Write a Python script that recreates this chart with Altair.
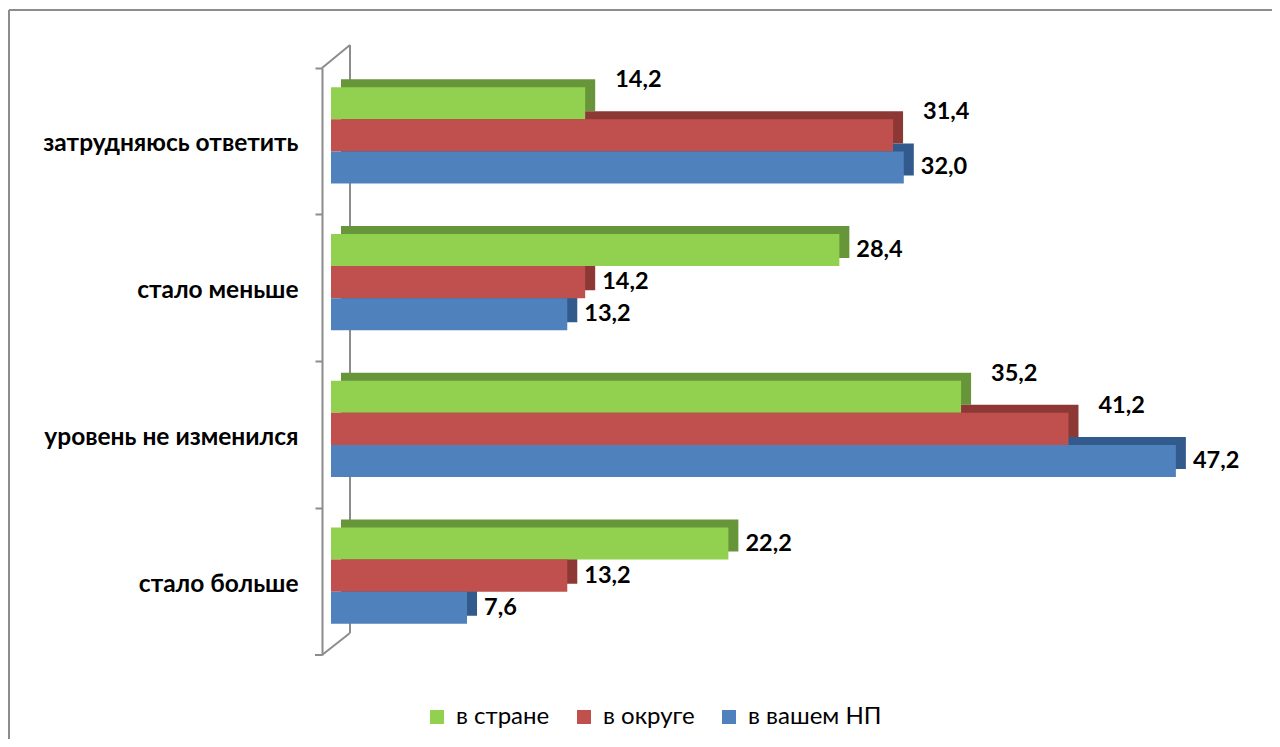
import altair as alt
import pandas as pd

categories = ["затрудняюсь ответить", "стало меньше", "уровень не изменился", "стало больше"]
series = ["в стране", "в округе", "в вашем НП"]
v_country = [14.2, 28.4, 35.2, 22.2]
v_district = [31.4, 14.2, 41.2, 13.2]
v_local = [32.0, 13.2, 47.2, 7.6]
front_colors = ["#92D050", "#C0504D", "#4F81BD"]
side_colors = ["#67963A", "#8E3836", "#325A8C"]

vals = [v_country, v_district, v_local]
rows = []
for ci, cat in enumerate(categories):
    for si, s in enumerate(series):
        v = vals[si][ci]
        nxt = vals[si + 1][ci] if si + 1 < len(series) else None
        rows.append({
            "cat": cat,
            "series": s,
            "value": v,
            "label": f"{v:.1f}".replace(".", ","),
            "shifted": bool(nxt is not None and v < nxt),
        })
df = pd.DataFrame(rows)

FONT = "Lato"
GRAY = "#8C8C8C"
H = 587


def y_enc(shift, axis=None):
    return alt.Y("cat:N", sort=categories, title=None,
                 scale=alt.Scale(paddingInner=0, paddingOuter=0, range=[shift, H + shift]),
                 axis=axis)


yoff_enc = alt.YOffset("series:N", sort=series,
                       scale=alt.Scale(paddingInner=0, paddingOuter=0.79))
x_enc = alt.X("value:Q", scale=alt.Scale(domain=[0, 50]), axis=None)

base = alt.Chart(df)

axis_layer = base.mark_bar(opacity=0).encode(
    y=y_enc(0, alt.Axis(labelFont=FONT, labelFontSize=24.5, labelFontWeight="bold",
                        labelColor="black", labelPadding=17, labelOffset=3,
                        domain=True, domainColor=GRAY, domainWidth=2, offset=9,
                        ticks=True, tickColor=GRAY, tickWidth=2, tickSize=7,
                        bandPosition=0, labelLimit=400)),
    x=alt.value(0), x2=alt.value(0),
)

shadow = base.mark_bar(xOffset=10).encode(
    y=y_enc(-14), yOffset=yoff_enc, x=x_enc,
    color=alt.Color("series:N", sort=series,
                    scale=alt.Scale(domain=series, range=side_colors), legend=None),
)

front = base.mark_bar().encode(
    y=y_enc(-6), yOffset=yoff_enc, x=x_enc,
    color=alt.Color("series:N", sort=series,
                    scale=alt.Scale(domain=series, range=front_colors),
                    legend=alt.Legend(title=None, orient="none", legendX=94, legendY=637,
                                      direction="horizontal", symbolType="square",
                                      symbolSize=196, symbolStrokeWidth=0,
                                      labelFont=FONT, labelFontSize=24, labelColor="black",
                                      labelOffset=7, columnPadding=22)),
)

labels_plain = base.transform_filter("!datum.shifted").mark_text(
    align="left", baseline="middle", dx=17,
    font=FONT, fontSize=23.5, fontWeight="bold", color="black",
).encode(y=y_enc(-6), yOffset=yoff_enc, x=x_enc, text="label:N")

labels_shift = base.transform_filter("datum.shifted").mark_text(
    align="left", baseline="middle", dx=30,
    font=FONT, fontSize=23.5, fontWeight="bold", color="black",
).encode(y=y_enc(-29), yOffset=yoff_enc, x=x_enc, text="label:N")

# decorative 3D wall and frame
deco = pd.DataFrame({"k": [0]})


def line(x1, y1, x2, y2, w=2):
    return alt.Chart(deco).mark_rule(color=GRAY, strokeWidth=w).encode(
        x=alt.value(x1), x2=alt.value(x2), y=alt.value(y1), y2=alt.value(y2))


wall = (
    line(19, -23, 19, 565)
    + line(-9, 0, 19, -23)
    + line(-9, H, 19, 565)
    + line(-16, H, -9, H)
    + line(-322, -58, 960, -58)
    + line(-322, -58, -322, 700)
)

chart = alt.layer(wall, axis_layer, shadow, front, labels_plain, labels_shift).resolve_scale(
    color="independent", y="independent"
).properties(
    width=895, height=H,
    autosize=alt.AutoSizeParams(type="none"),
    padding={"left": 323, "top": 60, "right": 46, "bottom": 84},
).configure_view(stroke=None)

chart.save("out.html", embed_options={"renderer": "svg", "actions": False})
